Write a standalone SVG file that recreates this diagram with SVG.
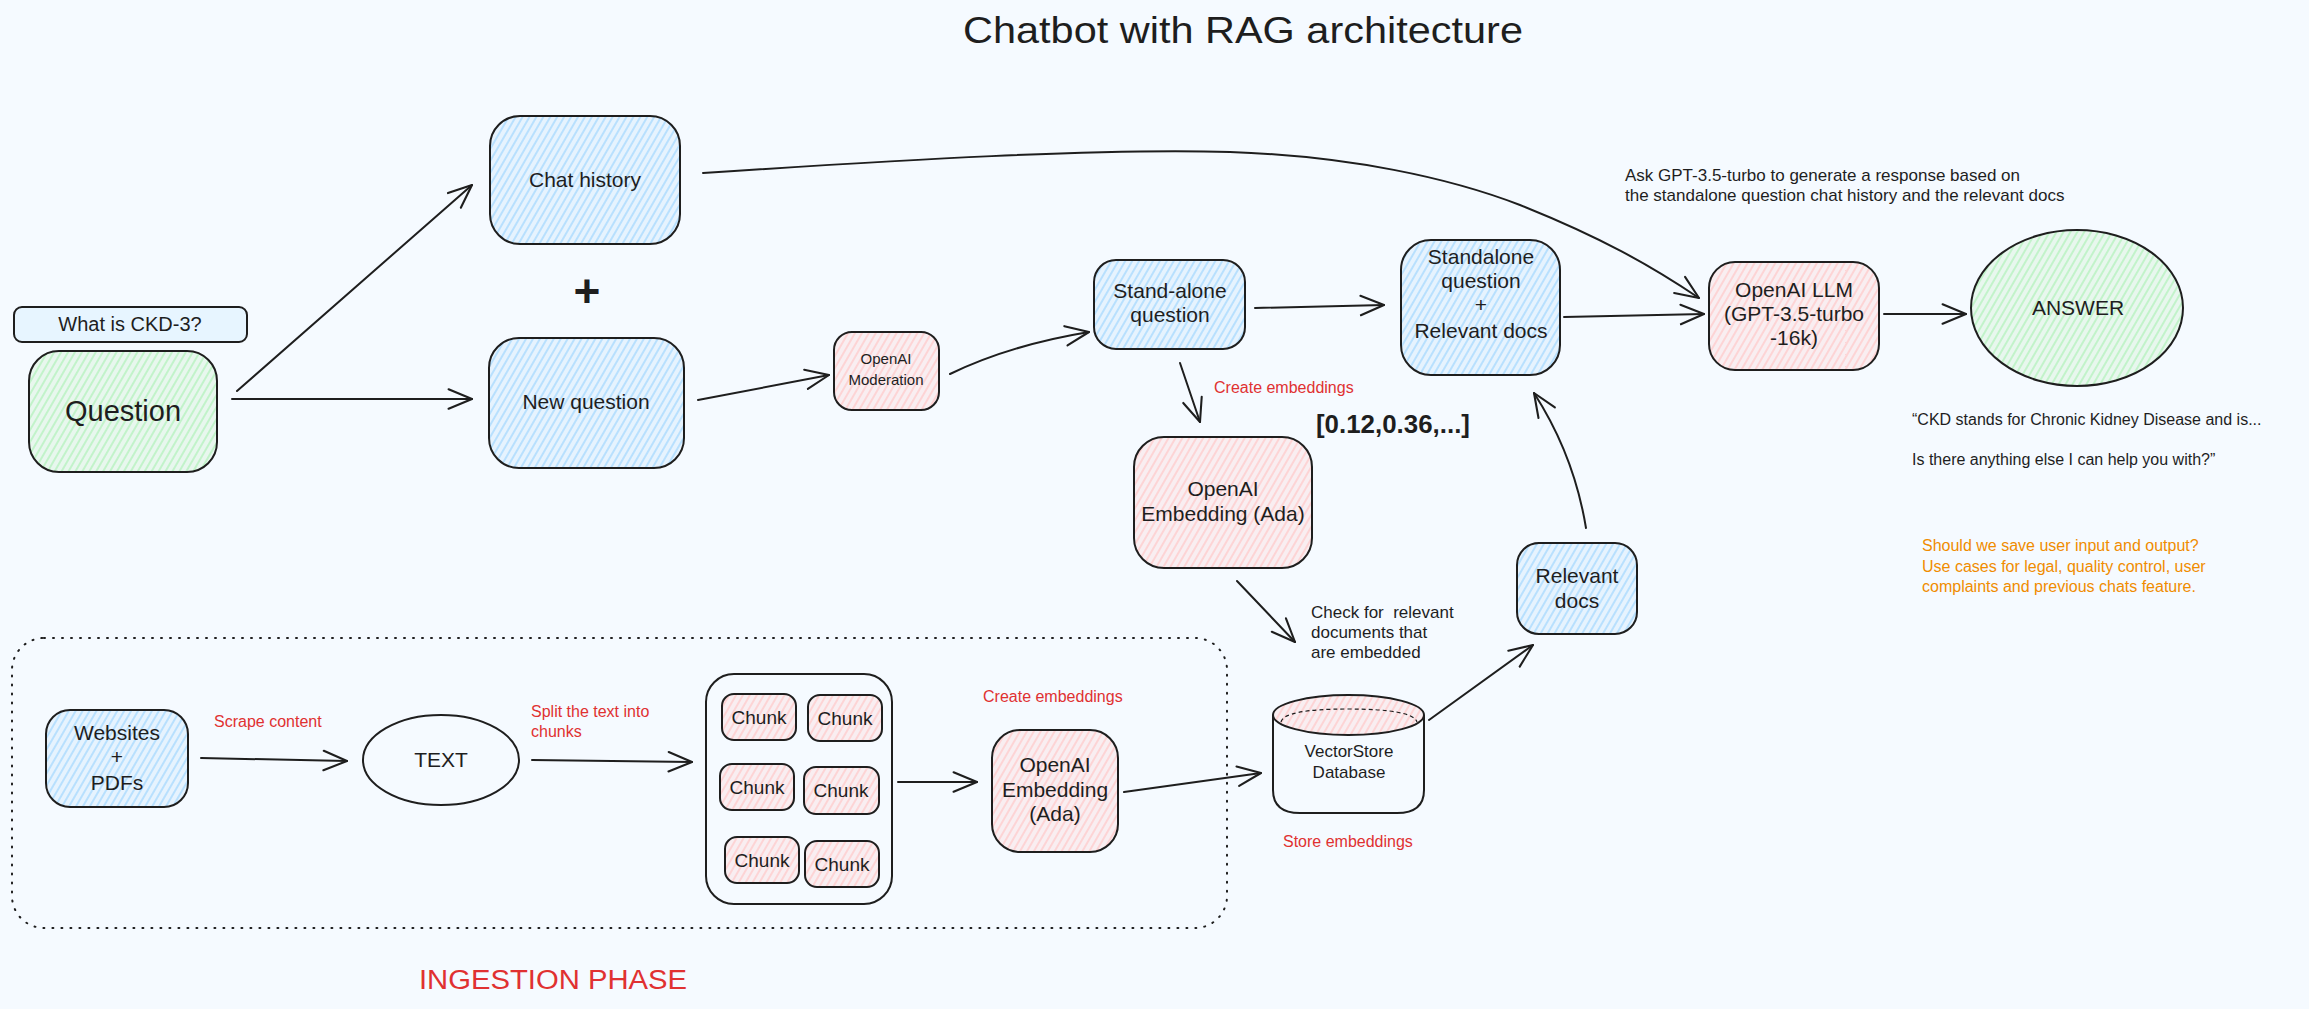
<svg xmlns="http://www.w3.org/2000/svg" width="2309" height="1009" viewBox="0 0 2309 1009">
<defs>
<style>
text{font-family:"Liberation Sans",Arial,sans-serif;fill:#1e1e1e}
.n{font-size:21px;text-anchor:middle}
.s{font-size:15px;text-anchor:middle}
.ann{font-size:17px}
.red{font-size:16px;fill:#e03131}
.org{font-size:16px;fill:#f08c00}
.box{stroke:#1e1e1e;stroke-width:2}
.c{fill:none;stroke:#1e1e1e;stroke-width:2;stroke-linecap:round;marker-end:url(#ah)}
</style>
<pattern id="hb" patternUnits="userSpaceOnUse" width="6" height="6" patternTransform="rotate(30)"><rect width="6" height="6" fill="#e6f3fe"/><line x1="1" y1="0" x2="1" y2="6" stroke="#a5d8ff" stroke-width="1.4"/></pattern>
<pattern id="hp" patternUnits="userSpaceOnUse" width="6" height="6" patternTransform="rotate(30)"><rect width="6" height="6" fill="#f9eef1"/><line x1="1" y1="0" x2="1" y2="6" stroke="#ffc9c9" stroke-width="1.4"/></pattern>
<pattern id="hg" patternUnits="userSpaceOnUse" width="6" height="6" patternTransform="rotate(30)"><rect width="6" height="6" fill="#e8f7ee"/><line x1="1" y1="0" x2="1" y2="6" stroke="#b2f2bb" stroke-width="1.4"/></pattern>
<marker id="ah" viewBox="0 0 20 20" refX="19" refY="10" markerWidth="26" markerHeight="26" markerUnits="userSpaceOnUse" orient="auto">
<path d="M1,2.5 L19,10 L1,17.5" fill="none" stroke="#1e1e1e" stroke-width="1.6" stroke-linecap="round" stroke-linejoin="round"/>
</marker>
</defs>
<rect width="2309" height="1009" fill="#f5faff"/>

<text x="1243" y="43" font-size="36" text-anchor="middle" textLength="560" lengthAdjust="spacingAndGlyphs">Chatbot with RAG architecture</text>

<g id="ingestion-area">
<rect x="12" y="638" width="1215" height="290" rx="32" fill="none" stroke="#1e1e1e" stroke-width="2" stroke-dasharray="1 8" stroke-linecap="round"/>
<text x="419" y="989" font-size="27" style="fill:#e03131" textLength="268" lengthAdjust="spacingAndGlyphs">INGESTION PHASE</text>
</g>

<g id="connectors">
<path class="c" d="M237,391 L472,185"/>
<path class="c" d="M232,399 L472,399"/>
<path class="c" d="M698,400 L829,375"/>
<path class="c" d="M950,374 Q1010,345 1089,332"/>
<path class="c" d="M1255,308 L1384,305"/>
<path class="c" d="M1564,317 L1704,314"/>
<path class="c" d="M1884,314 L1966,314"/>
<path class="c" d="M703,173 C900,160 1100,148 1230,152 C1350,156 1450,178 1520,205 C1600,237 1650,265 1699,298"/>
<path class="c" d="M1180,363 L1200,422"/>
<path class="c" d="M1237,581 L1295,642"/>
<path class="c" d="M1429,720 L1533,645"/>
<path class="c" d="M1586,528 Q1574,455 1534,393"/>
<path class="c" d="M201,758 L347,761"/>
<path class="c" d="M532,760 L692,762"/>
<path class="c" d="M898,782 L977,782"/>
<path class="c" d="M1124,792 L1261,773"/>
</g>

<g id="what-is-ckd">
<rect class="box" x="14" y="307" width="233" height="35" rx="8" fill="#e7f5ff" stroke-width="1.6"/>
<text x="130" y="331" font-size="20" text-anchor="middle">What is CKD-3?</text>
</g>

<g id="question">
<rect class="box" x="29" y="351" width="188" height="121" rx="30" fill="url(#hg)"/>
<text x="123" y="421" font-size="29" text-anchor="middle">Question</text>
</g>

<g id="chat-history">
<rect class="box" x="490" y="116" width="190" height="128" rx="30" fill="url(#hb)"/>
<text class="n" x="585" y="187">Chat history</text>
</g>

<g id="plus">
<text x="587" y="307" font-size="46" font-weight="bold" text-anchor="middle">+</text>
</g>

<g id="new-question">
<rect class="box" x="489" y="338" width="195" height="130" rx="30" fill="url(#hb)"/>
<text class="n" x="586" y="409">New question</text>
</g>

<g id="moderation">
<rect class="box" x="834" y="332" width="105" height="78" rx="18" fill="url(#hp)"/>
<text class="s" x="886" y="364">OpenAI</text>
<text class="s" x="886" y="385">Moderation</text>
</g>

<g id="stand-alone-question">
<rect class="box" x="1094" y="260" width="151" height="89" rx="22" fill="url(#hb)"/>
<text class="n" x="1170" y="298">Stand-alone</text>
<text class="n" x="1170" y="322">question</text>
</g>

<g id="standalone-relevant">
<rect class="box" x="1401" y="240" width="159" height="135" rx="30" fill="url(#hb)"/>
<text class="n" x="1481" y="264">Standalone</text>
<text class="n" x="1481" y="288">question</text>
<text class="n" x="1481" y="312">+</text>
<text class="n" x="1481" y="338">Relevant docs</text>
</g>

<g id="openai-llm">
<rect class="box" x="1709" y="262" width="170" height="108" rx="26" fill="url(#hp)"/>
<text class="n" x="1794" y="297">OpenAI LLM</text>
<text class="n" x="1794" y="321">(GPT-3.5-turbo</text>
<text class="n" x="1794" y="345">-16k)</text>
</g>

<g id="answer">
<ellipse class="box" cx="2077" cy="308" rx="106" ry="78" fill="url(#hg)"/>
<text class="n" x="2078" y="315">ANSWER</text>
</g>

<g id="notes">
<text class="ann" x="1625" y="181">Ask GPT-3.5-turbo to generate a response based on</text>
<text class="ann" x="1625" y="201">the standalone question chat history and the relevant docs</text>
<text x="1912" y="425" font-size="16">“CKD stands for Chronic Kidney Disease and is...</text>
<text x="1912" y="465" font-size="16">Is there anything else I can help you with?”</text>
<text class="org" x="1922" y="551">Should we save user input and output?</text>
<text class="org" x="1922" y="572">Use cases for legal, quality control, user</text>
<text class="org" x="1922" y="592">complaints and previous chats feature.</text>
<text class="red" x="1214" y="393">Create embeddings</text>
<text x="1316" y="433" font-size="25" font-weight="bold" textLength="154" lengthAdjust="spacingAndGlyphs">[0.12,0.36,...]</text>
<text class="ann" x="1311" y="618" xml:space="preserve">Check for  relevant</text>
<text class="ann" x="1311" y="638">documents that</text>
<text class="ann" x="1311" y="658">are embedded</text>
<text class="red" x="214" y="727">Scrape content</text>
<text class="red" x="531" y="717">Split the text into</text>
<text class="red" x="531" y="737">chunks</text>
<text class="red" x="983" y="702">Create embeddings</text>
<text class="red" x="1283" y="847">Store embeddings</text>
</g>

<g id="embedding-upper">
<rect class="box" x="1134" y="437" width="178" height="131" rx="30" fill="url(#hp)"/>
<text class="n" x="1223" y="496">OpenAI</text>
<text class="n" x="1223" y="521">Embedding (Ada)</text>
</g>

<g id="relevant-docs">
<rect class="box" x="1517" y="543" width="120" height="91" rx="22" fill="url(#hb)"/>
<text class="n" x="1577" y="583">Relevant</text>
<text class="n" x="1577" y="608">docs</text>
</g>

<g id="websites-pdfs">
<rect class="box" x="46" y="710" width="142" height="97" rx="24" fill="url(#hb)"/>
<text class="n" x="117" y="740">Websites</text>
<text class="n" x="117" y="764">+</text>
<text class="n" x="117" y="790">PDFs</text>
</g>

<g id="text-node">
<ellipse class="box" cx="441" cy="760" rx="78" ry="45" fill="#f5faff"/>
<text class="n" x="441" y="767">TEXT</text>
</g>

<g id="chunks">
<rect class="box" x="706" y="674" width="186" height="230" rx="28" fill="none"/>
<rect class="box" x="722" y="694" width="74" height="46" rx="12" fill="url(#hp)"/>
<rect class="box" x="808" y="695" width="74" height="46" rx="12" fill="url(#hp)"/>
<rect class="box" x="720" y="764" width="74" height="46" rx="12" fill="url(#hp)"/>
<rect class="box" x="804" y="767" width="75" height="47" rx="12" fill="url(#hp)"/>
<rect class="box" x="725" y="837" width="74" height="46" rx="12" fill="url(#hp)"/>
<rect class="box" x="805" y="841" width="74" height="46" rx="12" fill="url(#hp)"/>
<text x="759" y="724" font-size="19" text-anchor="middle">Chunk</text>
<text x="845" y="725" font-size="19" text-anchor="middle">Chunk</text>
<text x="757" y="794" font-size="19" text-anchor="middle">Chunk</text>
<text x="841" y="797" font-size="19" text-anchor="middle">Chunk</text>
<text x="762" y="867" font-size="19" text-anchor="middle">Chunk</text>
<text x="842" y="871" font-size="19" text-anchor="middle">Chunk</text>
</g>

<g id="embedding-lower">
<rect class="box" x="992" y="730" width="126" height="122" rx="28" fill="url(#hp)"/>
<text class="n" x="1055" y="772">OpenAI</text>
<text class="n" x="1055" y="797">Embedding</text>
<text class="n" x="1055" y="821">(Ada)</text>
</g>

<g id="vectorstore">
<path class="box" d="M1273,715 L1273,790 Q1273,813 1300,813 L1397,813 Q1424,813 1424,790 L1424,715" fill="none"/>
<ellipse class="box" cx="1348.5" cy="715" rx="75.5" ry="20" fill="url(#hp)"/>
<path d="M1281,722 Q1284,709 1348,709 Q1413,709 1417,722" fill="none" stroke="#1e1e1e" stroke-width="1.2" stroke-dasharray="4 3"/>
<text x="1349" y="757" font-size="17" text-anchor="middle">VectorStore</text>
<text x="1349" y="778" font-size="17" text-anchor="middle">Database</text>
</g>
</svg>
